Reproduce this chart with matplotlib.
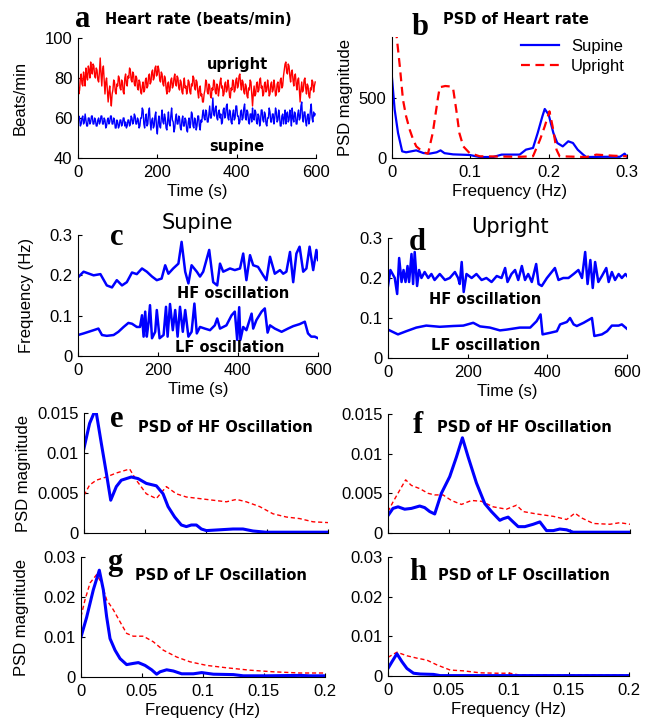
import numpy as np
import matplotlib
matplotlib.use("Agg")
import matplotlib.pyplot as plt

plt.rcParams['font.family'] = ['Liberation Sans', 'DejaVu Sans']
plt.rcParams['font.size'] = 12

BLUE = '#0000ff'
RED = '#ff0000'

# ---- a: heart rate, one value every 2 s ----
hr_time = np.arange(0, 600, 2)
hr_upright = [78, 72, 74, 80, 82, 77, 76, 83, 80, 76, 85, 81, 79, 86, 84, 80, 88, 84, 82, 87,
              86, 81, 80, 85, 84, 79, 78, 83, 90, 82, 76, 84, 86, 79, 72, 78, 80, 74, 68, 73,
              76, 70, 66, 72, 74, 79, 78, 73, 72, 77, 76, 81, 80, 75, 74, 79, 78, 73, 72, 80,
              82, 77, 76, 81, 80, 85, 84, 79, 78, 83, 82, 77, 76, 81, 80, 75, 74, 79, 78, 73,
              72, 76, 78, 73, 74, 79, 80, 75, 76, 81, 82, 77, 78, 83, 84, 79, 80, 85, 86, 81,
              82, 86, 84, 79, 78, 83, 82, 77, 76, 81, 80, 75, 72, 77, 78, 73, 74, 79, 80, 75,
              76, 80, 82, 77, 76, 81, 80, 75, 74, 79, 78, 73, 72, 77, 80, 75, 76, 72, 74, 79,
              78, 73, 72, 77, 76, 81, 80, 75, 74, 79, 78, 73, 70, 75, 76, 71, 72, 68, 68, 72,
              74, 79, 78, 73, 72, 77, 76, 71, 70, 75, 74, 79, 78, 73, 72, 77, 76, 71, 74, 78,
              80, 75, 76, 71, 72, 77, 78, 73, 74, 79, 76, 71, 70, 75, 74, 79, 78, 73, 74, 79,
              80, 75, 76, 81, 82, 77, 74, 79, 78, 73, 72, 77, 76, 71, 70, 75, 74, 79, 78, 72,
              66, 72, 76, 71, 72, 77, 78, 73, 74, 79, 80, 75, 76, 71, 72, 77, 78, 73, 74, 79,
              76, 71, 72, 77, 78, 73, 74, 79, 76, 71, 72, 77, 78, 73, 74, 79, 80, 75, 76, 81,
              84, 87, 88, 83, 82, 87, 86, 81, 78, 83, 84, 79, 76, 81, 82, 77, 74, 79, 80, 74,
              68, 74, 78, 73, 74, 79, 80, 75, 72, 77, 76, 71, 70, 75, 74, 79, 78, 73, 76, 78]
hr_supine = [58, 61, 60, 56, 57, 60, 61, 57, 58, 62, 59, 56, 56, 60, 60, 57, 58, 61, 61, 57,
             57, 60, 59, 56, 56, 59, 60, 57, 58, 61, 61, 57, 57, 60, 59, 55, 56, 59, 60, 57,
             58, 61, 61, 57, 57, 60, 59, 55, 55, 59, 58, 55, 56, 59, 59, 56, 57, 60, 60, 56,
             58, 55, 56, 59, 59, 56, 57, 61, 60, 57, 58, 62, 61, 57, 57, 60, 59, 55, 56, 60,
             60, 65, 64, 57, 55, 60, 62, 56, 57, 63, 65, 58, 54, 59, 60, 55, 56, 61, 63, 55,
             52, 58, 61, 56, 55, 60, 64, 58, 57, 62, 60, 55, 54, 59, 63, 57, 56, 61, 65, 59,
             58, 53, 55, 60, 62, 57, 57, 61, 60, 55, 54, 59, 61, 56, 56, 60, 59, 54, 53, 58,
             60, 55, 57, 63, 62, 56, 55, 60, 59, 54, 56, 61, 61, 56, 54, 59, 58, 62, 64, 60,
             59, 64, 63, 58, 58, 62, 66, 60, 60, 64, 70, 62, 61, 65, 66, 60, 59, 63, 64, 60,
             62, 57, 58, 64, 65, 60, 61, 66, 67, 60, 59, 64, 63, 58, 57, 62, 64, 59, 60, 66,
             66, 61, 61, 57, 58, 63, 64, 59, 60, 65, 67, 60, 59, 64, 63, 58, 57, 62, 62, 58,
             65, 60, 59, 64, 63, 58, 57, 62, 61, 56, 58, 64, 64, 59, 58, 63, 62, 57, 56, 60,
             60, 65, 63, 58, 58, 62, 62, 57, 60, 65, 63, 58, 59, 64, 61, 56, 56, 61, 62, 57,
             60, 64, 57, 62, 63, 58, 59, 64, 61, 56, 65, 60, 58, 63, 62, 57, 57, 62, 64, 59,
             60, 66, 68, 60, 58, 63, 63, 58, 56, 61, 62, 57, 59, 64, 67, 60, 58, 63, 61, 62]

# ---- b: PSD of heart rate ----
b_freq_sup = [0, 0.0034, 0.0077, 0.013, 0.018, 0.031, 0.04, 0.048, 0.057, 0.062,
              0.067, 0.078, 0.099, 0.112, 0.129, 0.14, 0.163, 0.171, 0.18, 0.186,
              0.192, 0.195, 0.2, 0.206, 0.211, 0.218, 0.225, 0.231, 0.237, 0.244,
              0.248, 0.269, 0.291, 0.297, 0.3]
b_psd_sup = [660, 400, 207, 55, 47, 63, 41, 36, 47, 63,
             40, 30, 25, 8, 8, 28, 28, 69, 83, 207,
             345, 405, 358, 207, 124, 96, 138, 124, 69, 28,
             8, 10, 10, 36, 10]
b_freq_up = [0, 0.006, 0.01, 0.014, 0.018, 0.0226, 0.027, 0.031, 0.04, 0.046,
             0.052, 0.059, 0.061, 0.068, 0.076, 0.078, 0.082, 0.086, 0.091, 0.099,
             0.112, 0.163, 0.18, 0.189, 0.195, 0.201, 0.205, 0.21, 0.214, 0.248,
             0.261, 0.282, 0.3]
b_psd_up = [1300, 1000, 757, 482, 345, 234, 152, 96, 47, 36,
            207, 510, 585, 595, 590, 575, 400, 206, 96, 41,
            14, 10, 14, 152, 262, 386, 262, 69, 14, 8,
            28, 19, 14]

# ---- c: supine oscillation frequencies ----
c_hf_t = [0, 14, 39, 56, 72, 85, 97, 110, 122, 135, 147, 160, 172, 185, 197, 209,
          218, 226, 238, 251, 259, 268, 276, 284, 297, 305, 313, 328, 338, 348, 355,
          363, 380, 392, 405, 413, 421, 430, 438, 450, 463, 471, 480, 492, 505, 513,
          521, 530, 538, 546, 554, 563, 571, 579, 588, 596, 600]
c_hf = [0.195, 0.209, 0.2, 0.203, 0.175, 0.17, 0.188, 0.175, 0.183, 0.207, 0.203,
        0.217, 0.209, 0.197, 0.188, 0.192, 0.225, 0.204, 0.217, 0.229, 0.283, 0.209,
        0.18, 0.225, 0.209, 0.197, 0.209, 0.263, 0.183, 0.175, 0.229, 0.209, 0.217,
        0.213, 0.217, 0.254, 0.188, 0.25, 0.225, 0.221, 0.2, 0.188, 0.246, 0.204,
        0.213, 0.204, 0.209, 0.258, 0.183, 0.254, 0.271, 0.209, 0.217, 0.271, 0.213,
        0.263, 0.238]
c_lf_t = [0, 14, 39, 51, 60, 72, 89, 101, 114, 126, 135, 147, 155, 160, 164, 168,
          172, 176, 180, 185, 193, 197, 204, 214, 220, 224, 230, 237, 243, 249, 255,
          262, 268, 276, 284, 291, 297, 305, 317, 330, 342, 348, 355, 371, 384, 392,
          398, 403, 406, 413, 421, 434, 438, 446, 459, 467, 474, 480, 492, 509, 525,
          538, 554, 567, 575, 583, 592, 600]
c_lf = [0.052, 0.056, 0.064, 0.068, 0.052, 0.05, 0.052, 0.06, 0.072, 0.082, 0.08,
        0.072, 0.072, 0.101, 0.048, 0.11, 0.048, 0.08, 0.126, 0.044, 0.06, 0.114,
        0.044, 0.052, 0.122, 0.048, 0.129, 0.064, 0.114, 0.048, 0.122, 0.06, 0.114,
        0.048, 0.06, 0.13, 0.056, 0.072, 0.068, 0.064, 0.076, 0.093, 0.068, 0.076,
        0.101, 0.11, 0.04, 0.121, 0.04, 0.072, 0.064, 0.105, 0.068, 0.089, 0.11,
        0.118, 0.058, 0.076, 0.068, 0.06, 0.068, 0.074, 0.079, 0.085, 0.056, 0.048,
        0.048, 0.044]

# ---- d: upright oscillation frequencies ----
d_hf_t = [0, 6, 17, 23, 28, 34, 39, 44, 49, 53, 59, 63, 67, 73, 78, 84, 92, 101,
          109, 117, 130, 143, 155, 168, 176, 180, 185, 190, 197, 210, 222, 235, 247,
          260, 273, 285, 294, 300, 310, 319, 327, 336, 344, 352, 361, 372, 378, 386,
          399, 411, 419, 428, 440, 453, 466, 478, 487, 495, 501, 508, 514, 520, 528,
          537, 548, 554, 562, 570, 579, 587, 596, 600]
d_hf = [0.18, 0.22, 0.2, 0.16, 0.25, 0.19, 0.22, 0.19, 0.23, 0.19, 0.26, 0.185,
        0.265, 0.18, 0.22, 0.2, 0.215, 0.2, 0.21, 0.195, 0.21, 0.195, 0.2, 0.215,
        0.2, 0.185, 0.24, 0.165, 0.21, 0.2, 0.21, 0.195, 0.2, 0.19, 0.205, 0.2,
        0.225, 0.19, 0.21, 0.22, 0.195, 0.23, 0.195, 0.21, 0.19, 0.235, 0.185, 0.18,
        0.2, 0.215, 0.225, 0.195, 0.2, 0.2, 0.21, 0.22, 0.2, 0.265, 0.185, 0.245,
        0.175, 0.24, 0.19, 0.205, 0.225, 0.19, 0.215, 0.195, 0.21, 0.2, 0.21, 0.205]
d_lf_t = [0, 25, 46, 71, 96, 130, 164, 189, 214, 231, 256, 281, 298, 331, 357, 373,
          383, 388, 407, 424, 432, 449, 457, 466, 474, 491, 512, 518, 537, 550, 562,
          579, 587, 600]
d_lf = [0.071, 0.059, 0.067, 0.076, 0.081, 0.078, 0.08, 0.081, 0.088, 0.079,
        0.076, 0.069, 0.071, 0.076, 0.076, 0.092, 0.109, 0.059, 0.063, 0.067,
        0.084, 0.09, 0.1, 0.084, 0.08, 0.088, 0.1, 0.055, 0.059, 0.067, 0.081,
        0.081, 0.084, 0.073]

# ---- e: supine HF oscillation PSD ----
e_freq_sup = [0, 0.0046, 0.0082, 0.0101, 0.0142, 0.0183, 0.0219, 0.0265, 0.0306,
              0.0388, 0.0443, 0.0511, 0.0593, 0.0648, 0.0689, 0.0743, 0.0798, 0.0839,
              0.088, 0.0921, 0.0962, 0.1003, 0.1112, 0.1221, 0.1303, 0.1385, 0.149, 0.2]
e_psd_sup = [0.0106, 0.0137, 0.015, 0.015, 0.0112, 0.0075, 0.0041, 0.0058, 0.0066,
             0.007, 0.0068, 0.0062, 0.0059, 0.0049, 0.0033, 0.002, 0.001, 0.0008,
             0.001, 0.001, 0.0005, 0.0003, 0.0004, 0.0005, 0.0005, 0.00025, 0.0001, 0.0001]
e_freq_up = [0, 0.0046, 0.0101, 0.0183, 0.0265, 0.0374, 0.0429, 0.0511, 0.0593,
             0.0675, 0.0757, 0.0839, 0.0948, 0.1057, 0.1167, 0.1249, 0.133, 0.144,
             0.1549, 0.1658, 0.1768, 0.1877, 0.2]
e_psd_up = [0.0047, 0.006, 0.0066, 0.007, 0.0075, 0.008, 0.0066, 0.0049, 0.0043,
            0.0058, 0.0049, 0.0045, 0.0043, 0.0041, 0.0039, 0.0042, 0.0039, 0.0033,
            0.0024, 0.002, 0.0018, 0.0014, 0.0013]

# ---- f: upright HF oscillation PSD ----
f_freq_sup = [0, 0.0041, 0.0083, 0.0138, 0.0193, 0.0262, 0.0303, 0.0345, 0.0386,
              0.0441, 0.051, 0.0566, 0.0615, 0.0662, 0.0731, 0.08, 0.0855, 0.0924,
              0.0952, 0.0993, 0.1034, 0.1076, 0.1131, 0.12, 0.1255, 0.131, 0.1366,
              0.142, 0.1476, 0.153, 0.2]
f_psd_sup = [0.0022, 0.0031, 0.0033, 0.003, 0.0031, 0.0034, 0.0032, 0.0027, 0.0024,
             0.005, 0.0071, 0.0096, 0.012, 0.0096, 0.0063, 0.0037, 0.0027, 0.0016,
             0.0018, 0.002, 0.0014, 0.0008, 0.0008, 0.0011, 0.0014, 0.0003, 0.0003,
             0.0005, 0.0004, 0.0001, 0.0001]
f_freq_up = [0, 0.0041, 0.0097, 0.0146, 0.0193, 0.0262, 0.0331, 0.0386, 0.0455,
             0.0524, 0.0607, 0.069, 0.0772, 0.0869, 0.0979, 0.1062, 0.1117, 0.1228,
             0.1366, 0.1476, 0.1545, 0.16, 0.1697, 0.1834, 0.1917, 0.2]
f_psd_up = [0.0027, 0.0039, 0.0054, 0.0067, 0.006, 0.0056, 0.005, 0.0048, 0.0048,
            0.0041, 0.0036, 0.0041, 0.004, 0.0033, 0.003, 0.0035, 0.0027, 0.0024,
            0.0021, 0.0017, 0.0025, 0.0019, 0.0012, 0.0011, 0.0013, 0.0011]

# ---- g: supine LF oscillation PSD ----
g_freq_sup = [0, 0.0046, 0.0101, 0.015, 0.0183, 0.021, 0.0238, 0.0279, 0.032,
              0.0374, 0.0429, 0.047, 0.0525, 0.0579, 0.062, 0.0648, 0.0702, 0.0757,
              0.0825, 0.0921, 0.0989, 0.1085, 0.1249, 0.133, 0.152, 0.1795, 0.1877, 0.2]
g_psd_sup = [0.01, 0.0149, 0.0218, 0.0267, 0.0218, 0.0151, 0.0096, 0.0067, 0.0046,
             0.0031, 0.0034, 0.0036, 0.0029, 0.0018, 0.0007, 0.0013, 0.0018, 0.0015,
             0.0008, 0.0008, 0.0011, 0.0007, 0.0006, 0.0003, 0.0003, 0.0004, 0.0003, 0.0003]
g_freq_up = [0, 0.0033, 0.0074, 0.0128, 0.0169, 0.021, 0.0265, 0.032, 0.0374,
             0.0429, 0.0511, 0.0593, 0.0675, 0.0784, 0.0893, 0.103, 0.1194, 0.1385,
             0.1577, 0.1795, 0.2]
g_psd_up = [0.0151, 0.0193, 0.0235, 0.0256, 0.0235, 0.0193, 0.0168, 0.0138, 0.0109,
            0.0102, 0.0102, 0.0088, 0.0067, 0.005, 0.0038, 0.0029, 0.0023, 0.0017,
            0.0013, 0.001, 0.001]

# ---- h: upright LF oscillation PSD ----
h_freq_sup = [0, 0.0033, 0.0074, 0.0116, 0.0157, 0.0212, 0.0268, 0.0378, 0.0433, 0.2]
h_psd_sup = [0.0019, 0.0036, 0.0056, 0.0036, 0.0019, 0.0007, 0.0005, 0.0004, 0.0001, 0.0001]
h_freq_up = [0, 0.0074, 0.0157, 0.024, 0.0323, 0.0406, 0.0516, 0.0626, 0.0764,
             0.0902, 0.1012, 0.11, 0.2]
h_psd_up = [0.0047, 0.006, 0.0051, 0.0045, 0.004, 0.0028, 0.0015, 0.0013, 0.0008,
            0.0007, 0.0007, 0.0002, 0.0002]


W, H = 649, 723


def box(left, top, right, bottom):
    # pixel box -> figure fraction rect
    return [left / W, 1 - bottom / H, (right - left) / W, (bottom - top) / H]


def px(x, y):
    return x / W, 1 - y / H


def style(ax, xlim, ylim, xticks, xlabels, yticks, ylabels):
    ax.set_xlim(xlim)
    ax.set_ylim(ylim)
    ax.set_xticks(xticks)
    ax.set_xticklabels(xlabels)
    ax.set_yticks(yticks)
    ax.set_yticklabels(ylabels)
    ax.spines['top'].set_visible(False)
    ax.spines['right'].set_visible(False)
    for s in ['left', 'bottom']:
        ax.spines[s].set_linewidth(0.8)
    ax.tick_params(direction='in', length=3, width=0.8, labelsize=12, pad=4)
    ax.tick_params(axis='x', pad=5)


def letter(ch, x, y):
    fig.text(*px(x, y), ch, family='Liberation Serif', weight='bold',
             fontsize=22, va='baseline', ha='left')


def heading(s, x, y):
    fig.text(*px(x, y), s, family='DejaVu Sans', weight='bold',
             fontsize=10.5, va='center', ha='left')


def note(ax, s, x, y):
    ax.text(x, y, s, family='DejaVu Sans', weight='bold', fontsize=10.5,
            ha='center', va='center')


fig = plt.figure(figsize=(W / 100, H / 100), dpi=100)
fig.patch.set_facecolor('white')

# a
ax_a = fig.add_axes(box(78, 38, 316, 158))
ax_a.plot(hr_time, hr_upright, color=RED, lw=1.0)
ax_a.plot(hr_time, hr_supine, color=BLUE, lw=1.0)
style(ax_a, (0, 600), (40, 100), [0, 200, 400, 600], ['0', '200', '400', '600'],
      [40, 60, 80, 100], ['40', '60', '80', '100'])
ax_a.set_xlabel('Time (s)', labelpad=3)
ax_a.set_ylabel('Beats/min', labelpad=12)
note(ax_a, 'upright', 403, 86.5)
note(ax_a, 'supine', 400, 46)
letter('a', 75, 27)
heading('Heart rate (beats/min)', 105, 20)

# b
ax_b = fig.add_axes(box(392, 37, 627, 158))
ax_b.plot(b_freq_sup, b_psd_sup, color=BLUE, lw=1.6, label='Supine')
ax_b.plot(b_freq_up, b_psd_up, color=RED, lw=1.6, ls=(0, (4, 2.5)), label='Upright')
style(ax_b, (0, 0.3), (0, 1000), [0, 0.1, 0.2, 0.3], ['0', '0.1', '0.2', '0.3'],
      [0, 500], ['0', '500'])
ax_b.set_xlabel('Frequency (Hz)', labelpad=3)
ax_b.set_ylabel('PSD magnitude', labelpad=4)
ax_b.legend(loc='upper right', bbox_to_anchor=(1.02, 1.04), frameon=False,
            fontsize=12, handlelength=2.3, handletextpad=0.7, labelspacing=0.3,
            borderaxespad=0)
letter('b', 412, 35)
heading('PSD of Heart rate', 443, 19)

# c
ax_c = fig.add_axes(box(78, 235, 318, 356))
ax_c.plot(c_hf_t, c_hf, color=BLUE, lw=1.8)
ax_c.plot(c_lf_t, c_lf, color=BLUE, lw=1.8)
style(ax_c, (0, 600), (0, 0.3), [0, 200, 400, 600], ['0', '200', '400', '600'],
      [0, 0.1, 0.2, 0.3], ['0', '0.1', '0.2', '0.3'])
ax_c.set_xlabel('Time (s)', labelpad=3)
ax_c.set_ylabel('Frequency (Hz)', labelpad=11)
note(ax_c, 'HF oscillation', 388, 0.154)
note(ax_c, 'LF oscillation', 380, 0.02)
letter('c', 110, 245)
fig.text(*px(197, 223), 'Supine', family='DejaVu Sans', fontsize=15,
         ha='center', va='center')

# d
ax_d = fig.add_axes(box(388, 238, 627, 358))
ax_d.plot(d_hf_t, d_hf, color=BLUE, lw=1.8)
ax_d.plot(d_lf_t, d_lf, color=BLUE, lw=1.8)
style(ax_d, (0, 600), (0, 0.3), [0, 200, 400, 600], ['0', '200', '400', '600'],
      [0, 0.1, 0.2, 0.3], ['0', '0.1', '0.2', '0.3'])
ax_d.set_xlabel('Time (s)', labelpad=3)
note(ax_d, 'HF oscillation', 243, 0.147)
note(ax_d, 'LF oscillation', 246, 0.03)
letter('d', 409, 250)
fig.text(*px(510, 227), 'Upright', family='DejaVu Sans', fontsize=15,
         ha='center', va='center')

psd_x = [0, 0.05, 0.1, 0.15, 0.2]
psd_xl = ['0', '0.05', '0.1', '0.15', '0.2']
hf_y = [0, 0.005, 0.01, 0.015]
hf_yl = ['0', '0.005', '0.01', '0.015']
lf_y = [0, 0.01, 0.02, 0.03]
lf_yl = ['0', '0.01', '0.02', '0.03']
dash = (0, (3, 2))

# e
ax_e = fig.add_axes(box(84, 413, 328, 533))
ax_e.plot(e_freq_up, e_psd_up, color=RED, lw=1.0, ls=dash)
ax_e.plot(e_freq_sup, e_psd_sup, color=BLUE, lw=2.2)
style(ax_e, (0, 0.2), (0, 0.015), psd_x, [''] * 5, hf_y, hf_yl)
ax_e.set_ylabel('PSD magnitude', labelpad=4)
letter('e', 110, 427)
heading('PSD of HF Oscillation', 138, 428)

# f
ax_f = fig.add_axes(box(388, 414, 630, 533))
ax_f.plot(f_freq_up, f_psd_up, color=RED, lw=1.0, ls=dash)
ax_f.plot(f_freq_sup, f_psd_sup, color=BLUE, lw=2.2)
style(ax_f, (0, 0.2), (0, 0.015), psd_x, [''] * 5, hf_y, hf_yl)
letter('f', 413, 433)
heading('PSD of HF Oscillation', 437, 427)

# g
ax_g = fig.add_axes(box(81, 557, 325, 677))
ax_g.plot(g_freq_up, g_psd_up, color=RED, lw=1.0, ls=dash)
ax_g.plot(g_freq_sup, g_psd_sup, color=BLUE, lw=2.2)
style(ax_g, (0, 0.2), (0, 0.03), psd_x, psd_xl, lf_y, lf_yl)
ax_g.set_xlabel('Frequency (Hz)', labelpad=3)
ax_g.set_ylabel('PSD magnitude', labelpad=10)
letter('g', 107, 570)
heading('PSD of LF Oscillation', 135, 575)

# h
ax_h = fig.add_axes(box(388, 557, 629, 676))
ax_h.plot(h_freq_up, h_psd_up, color=RED, lw=1.0, ls=dash)
ax_h.plot(h_freq_sup, h_psd_sup, color=BLUE, lw=2.2)
style(ax_h, (0, 0.2), (0, 0.03), psd_x, psd_xl, lf_y, lf_yl)
ax_h.set_xlabel('Frequency (Hz)', labelpad=3)
letter('h', 409, 580)
heading('PSD of LF Oscillation', 438, 576)

fig.savefig('out.png', dpi=100)
